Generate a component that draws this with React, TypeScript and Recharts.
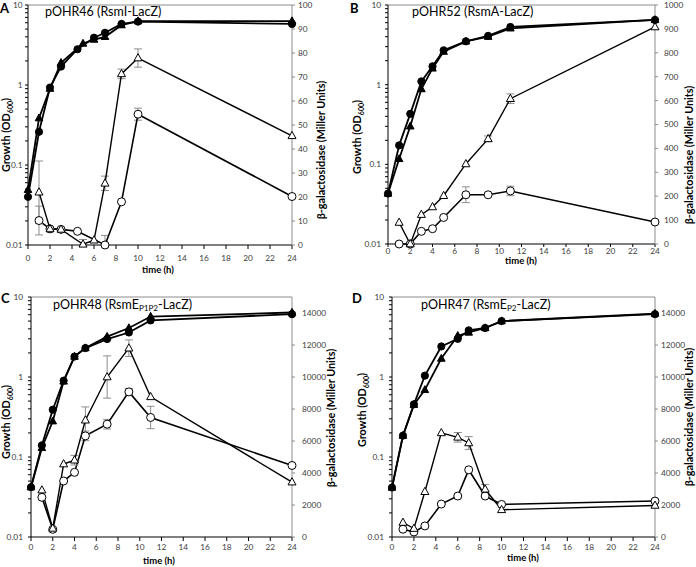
import React from 'react';
import { ComposedChart, Line, XAxis, YAxis, ErrorBar, ReferenceLine } from 'recharts';

const FONT = 'Lato, "Open Sans", sans-serif';

// shared ticks
const hourTicks = [0, 2, 4, 6, 8, 10, 12, 14, 16, 18, 20, 22, 24];
const odMajor = [0.01, 0.1, 1, 10];
const odTicks = [
  0.01, 0.02, 0.03, 0.04, 0.05, 0.06, 0.07, 0.08, 0.09,
  0.1, 0.2, 0.3, 0.4, 0.5, 0.6, 0.7, 0.8, 0.9,
  1, 2, 3, 4, 5, 6, 7, 8, 9, 10,
];
const lacTicksA = [0, 10, 20, 30, 40, 50, 60, 70, 80, 90, 100];
const lacTicksB = [0, 100, 200, 300, 400, 500, 600, 700, 800, 900, 1000];
const lacTicksCD = [0, 2000, 4000, 6000, 8000, 10000, 12000, 14000];

// panel A - pOHR46 (RsmI-LacZ)
const aGrowthCircleTime = [0, 1, 2, 3, 4.5, 6, 7, 8.5, 10, 24];
const aGrowthCircle = [0.04, 0.26, 0.93, 1.7, 2.8, 3.9, 4.5, 5.8, 6.2, 5.8];
const aGrowthTriTime = [0, 1, 2, 3, 5, 6, 7, 8.5, 10, 24];
const aGrowthTri = [0.049, 0.385, 0.9, 1.9, 3.3, 3.7, 4.0, 5.6, 6.3, 6.3];
const aLacCircleTime = [1, 2, 3, 4.5, 7, 8.5, 10, 24];
const aLacCircle = [10.2, 6.7, 6.5, 5.7, 0, 18, 54.5, 20.2];
const aLacCircleErr = [6, null, null, null, [0, 4], null, 2.5, null];
const aLacTriTime = [1, 2, 3, 5, 6, 7, 8.5, 10, 24];
const aLacTri = [22, 6.7, 6.5, 0.3, 2, 25.7, 71.3, 77.9, 45.5];
const aLacTriErr = [13, null, null, [0.3, 2], null, 3, 2, 3.8, null];

// panel B - pOHR52 (RsmA-LacZ)
const bGrowthTime = [0, 1, 2, 3, 4, 5, 7, 9, 11, 24];
const bGrowthCircle = [0.043, 0.173, 0.43, 1.1, 1.7, 2.7, 3.5, 4.1, 5.3, 6.5];
const bGrowthTri = [0.043, 0.117, 0.3, 0.88, 1.6, 2.6, 3.5, 4.0, 5.1, 6.5];
const bLacTime = [1, 2, 3, 4, 5, 7, 9, 11, 24];
const bLacCircle = [0, 0, 53, 64, 111, 206, 206, 222, 92];
const bLacCircleErr = [null, null, null, null, null, 33, null, 20, null];
const bLacTri = [90, 0, 123, 155, 202, 335, 440, 608, 908];
const bLacTriErr = [null, null, null, null, null, null, 12, 20, null];

// panel C - pOHR48 (RsmE P1P2-LacZ)
const cGrowthTime = [0, 1, 2, 3, 4, 5, 7, 9, 11, 24];
const cGrowthCircle = [0.042, 0.14, 0.39, 0.9, 1.8, 2.3, 2.98, 3.6, 5.1, 6.1];
const cGrowthTri = [0.042, 0.13, 0.28, 0.88, 1.8, 2.3, 3.2, 4.1, 5.7, 6.4];
const cLacTime = [1, 2, 3, 4, 5, 7, 9, 11, 24];
const cLacCircle = [2480, 480, 3500, 4040, 6320, 7050, 9070, 7470, 4470];
const cLacCircleErr = [null, null, null, null, 300, 300, 200, 700, null];
const cLacTri = [2930, 540, 4560, 4800, 7300, 10000, 11800, 8760, 3430];
const cLacTriErr = [null, null, null, 300, 830, 1320, 520, null, null];

// panel D - pOHR47 (RsmE P2-LacZ)
const dGrowthTime = [0, 1, 2, 3, 4.5, 6, 7, 8.5, 10, 24];
const dGrowthCircle = [0.0415, 0.185, 0.456, 1.04, 2.41, 3.0, 3.83, 4.1, 5.0, 6.1];
const dGrowthTri = [0.0415, 0.185, 0.45, 0.69, 1.7, 3.28, 3.6, 4.1, 5.0, 6.2];
const dLacTime = [1, 2, 3, 4.5, 6, 7, 8.5, 10, 24];
const dLacCircle = [485, 315, 692, 2058, 2561, 4198, 2561, 2036, 2246];
const dLacCircleErr = [null, null, null, null, null, null, null, null, null];
const dLacTri = [906, 528, 2832, 6507, 6230, 5877, 2983, 1700, 1973];
const dLacTriErr = [null, null, null, null, 300, 400, 300, null, null];

type Err = number | number[] | null;
const toRows = (time: number[], vals: number[], err?: Err[]) =>
  time.map((t, i) => ({ t, v: vals[i], e: err ? err[i] : null }));

const dotKey = (p: any) => `d-${p.index}-${p.cx}-${p.cy}`;

const circleDot = (filled: boolean, r: number) => (p: any) => {
  if (p.cx == null || p.cy == null) return <g key={dotKey(p)} />;
  return (
    <circle key={dotKey(p)} cx={p.cx} cy={p.cy} r={r}
      fill={filled ? '#000' : '#fff'} stroke="#000" strokeWidth={1} />
  );
};

const triDot = (filled: boolean, s: number) => (p: any) => {
  if (p.cx == null || p.cy == null) return <g key={dotKey(p)} />;
  const { cx, cy } = p;
  const pts = `${cx},${cy - s * 1.1} ${cx - s},${cy + s * 0.7} ${cx + s},${cy + s * 0.7}`;
  return (
    <polygon key={dotKey(p)} points={pts}
      fill={filled ? '#000' : '#fff'} stroke="#000" strokeWidth={1} strokeLinejoin="miter" />
  );
};

const fmtOd = (v: number) => (odMajor.includes(v) ? String(v) : '');
const tickStyle = { fontSize: 8.3, fill: '#404040', fontFamily: FONT };

type PanelProps = {
  left: number; top: number; height: number;
  plotTop: number; leftW: number; rightW: number; xH: number;
  xTickSize: number; xTickMargin: number; yTickMargin: number; rTickMargin: number;
  lacMax: number; lacTicks: number[];
  growthCircle: any[]; growthTri: any[]; lacCircle: any[]; lacTri: any[];
};

function Panel(p: PanelProps) {
  return (
    <div style={{ position: 'absolute', left: p.left, top: p.top }}>
      <ComposedChart width={348} height={p.height}
        margin={{ top: p.plotTop, right: 0, bottom: 0, left: 0 }}>
        <XAxis type="number" dataKey="t" domain={[0, 24]} ticks={hourTicks} interval={0}
          height={p.xH} tickSize={p.xTickSize} tickMargin={p.xTickMargin}
          tick={tickStyle} stroke="#000" tickLine={{ stroke: '#000' }} />
        <YAxis yAxisId="od" scale="log" domain={[0.01, 10]} ticks={odTicks} interval={0}
          tickFormatter={fmtOd} width={p.leftW} tickSize={3} tickMargin={p.yTickMargin}
          tick={tickStyle} stroke="#000" />
        <YAxis yAxisId="lac" orientation="right" domain={[0, p.lacMax]} ticks={p.lacTicks}
          interval={0} width={p.rightW} tickSize={3} tickMargin={p.rTickMargin}
          tick={tickStyle} stroke="#8c8c8c" />
        <ReferenceLine yAxisId="od" y={10} stroke="#8c8c8c" strokeWidth={1} />

        <Line yAxisId="lac" data={p.lacCircle} dataKey="v" type="linear" stroke="#000"
          strokeWidth={1.6} dot={circleDot(false, 4)} activeDot={false} isAnimationActive={false}>
          <ErrorBar dataKey="e" direction="y" width={4} stroke="#8c8c8c" strokeWidth={1} isAnimationActive={false} />
        </Line>
        <Line yAxisId="lac" data={p.lacTri} dataKey="v" type="linear" stroke="#000"
          strokeWidth={1.4} dot={triDot(false, 4)} activeDot={false} isAnimationActive={false}>
          <ErrorBar dataKey="e" direction="y" width={4} stroke="#8c8c8c" strokeWidth={1} isAnimationActive={false} />
        </Line>
        <Line yAxisId="od" data={p.growthTri} dataKey="v" type="linear" stroke="#000"
          strokeWidth={1.8} dot={triDot(true, 3.8)} activeDot={false} isAnimationActive={false} />
        <Line yAxisId="od" data={p.growthCircle} dataKey="v" type="linear" stroke="#000"
          strokeWidth={1.8} dot={circleDot(true, 3.6)} activeDot={false} isAnimationActive={false} />
      </ComposedChart>
    </div>
  );
}

const abs = (left: number, top: number, extra: React.CSSProperties = {}): React.CSSProperties => ({
  position: 'absolute', left, top, whiteSpace: 'nowrap', fontFamily: FONT, lineHeight: '12px', ...extra,
});

const sub: React.CSSProperties = { fontSize: '0.65em', verticalAlign: '-0.3em' };

const VLabel = ({ cx, cy, children, size = 10.8 }: any) => (
  <div style={abs(cx, cy, {
    transform: 'translate(-50%, -50%) rotate(-90deg)', fontSize: size, fontWeight: 700, color: '#000',
    lineHeight: '10px',
  })}>{children}</div>
);

const HLabel = ({ cx, cy, children }: any) => (
  <div style={abs(cx, cy, { transform: 'translate(-50%, -50%)', fontSize: 9.5, fontWeight: 700, color: '#000' })}>
    {children}
  </div>
);

const Title = ({ x, baseline, children }: any) => (
  <div style={abs(x, baseline - 10.6, { fontSize: 12.5, color: '#000' })}>{children}</div>
);

const Letter = ({ x, y, children }: any) => (
  <div style={abs(x, y, { fontSize: 13, fontWeight: 700, color: '#000' })}>{children}</div>
);

const GrowthText = () => (<span>Growth (OD<span style={sub}>600</span>)</span>);
const LacText = () => (<span>β-galactosidase (Miller Units)</span>);

export default function App() {
  return (
    <div style={{ position: 'absolute', left: 0, top: 0, width: 696, height: 567, background: '#fff', overflow: 'hidden' }}>
      <Panel left={0} top={0} height={280} plotTop={5} leftW={28} rightW={56} xH={35}
        xTickSize={4} xTickMargin={6.5} yTickMargin={2.5} rTickMargin={3}
        lacMax={100} lacTicks={lacTicksA}
        growthCircle={toRows(aGrowthCircleTime, aGrowthCircle)}
        growthTri={toRows(aGrowthTriTime, aGrowthTri)}
        lacCircle={toRows(aLacCircleTime, aLacCircle, aLacCircleErr)}
        lacTri={toRows(aLacTriTime, aLacTri, aLacTriErr)} />
      <Panel left={348} top={0} height={280} plotTop={5} leftW={40} rightW={41} xH={36}
        xTickSize={3} xTickMargin={1.5} yTickMargin={4} rTickMargin={6}
        lacMax={1000} lacTicks={lacTicksB}
        growthCircle={toRows(bGrowthTime, bGrowthCircle)}
        growthTri={toRows(bGrowthTime, bGrowthTri)}
        lacCircle={toRows(bLacTime, bLacCircle, bLacCircleErr)}
        lacTri={toRows(bLacTime, bLacTri, bLacTriErr)} />
      <Panel left={0} top={280} height={287} plotTop={17} leftW={31} rightW={56} xH={30}
        xTickSize={4} xTickMargin={3.5} yTickMargin={5} rTickMargin={7}
        lacMax={15000} lacTicks={lacTicksCD}
        growthCircle={toRows(cGrowthTime, cGrowthCircle)}
        growthTri={toRows(cGrowthTime, cGrowthTri)}
        lacCircle={toRows(cLacTime, cLacCircle, cLacCircleErr)}
        lacTri={toRows(cLacTime, cLacTri, cLacTriErr)} />
      <Panel left={348} top={280} height={287} plotTop={17} leftW={44} rightW={41} xH={30}
        xTickSize={4} xTickMargin={3.5} yTickMargin={5} rTickMargin={3}
        lacMax={15000} lacTicks={lacTicksCD}
        growthCircle={toRows(dGrowthTime, dGrowthCircle)}
        growthTri={toRows(dGrowthTime, dGrowthTri)}
        lacCircle={toRows(dLacTime, dLacCircle, dLacCircleErr)}
        lacTri={toRows(dLacTime, dLacTri, dLacTriErr)} />

      <Letter x={0} y={2}>A</Letter>
      <Letter x={350} y={2}>B</Letter>
      <Letter x={1} y={292}>C</Letter>
      <Letter x={352} y={292}>D</Letter>

      <Title x={45} baseline={17}>pOHR46 (RsmI-LacZ)</Title>
      <Title x={412} baseline={17}>pOHR52 (RsmA-LacZ)</Title>
      <Title x={53} baseline={310}>pOHR48 (RsmE<span style={sub}>P1P2</span>-LacZ)</Title>
      <Title x={421} baseline={310}>pOHR47 (RsmE<span style={sub}>P2</span>-LacZ)</Title>

      <VLabel cx={8} cy={135}><GrowthText /></VLabel>
      <VLabel cx={321} cy={150}><LacText /></VLabel>
      <VLabel cx={359} cy={137}><GrowthText /></VLabel>
      <VLabel cx={689} cy={155}><LacText /></VLabel>
      <VLabel cx={8} cy={422}><GrowthText /></VLabel>
      <VLabel cx={331} cy={418}><LacText /></VLabel>
      <VLabel cx={364} cy={410}><GrowthText /></VLabel>
      <VLabel cx={689} cy={417}><LacText /></VLabel>

      <HLabel cx={158} cy={270}>time (h)</HLabel>
      <HLabel cx={521} cy={261}>time (h)</HLabel>
      <HLabel cx={159} cy={561}>time (h)</HLabel>
      <HLabel cx={523} cy={558}>time (h)</HLabel>
    </div>
  );
}
